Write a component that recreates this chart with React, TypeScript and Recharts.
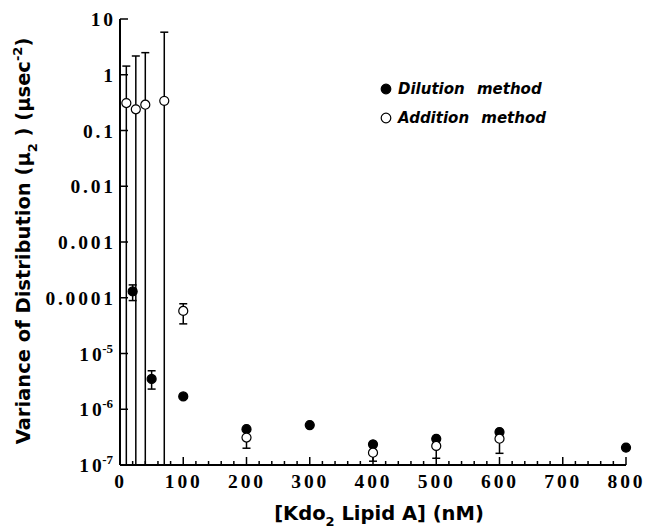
import { ScatterChart, Scatter, XAxis, YAxis, ErrorBar, Legend, Label } from "recharts";

// concentrations in nM, mu2 in usec^-2, error limits as absolute low/high values
const dilutionConc = [20, 50, 100, 200, 300, 400, 500, 600, 800];
const dilutionMu2 = [1.3e-4, 3.5e-6, 1.7e-6, 4.4e-7, 5.2e-7, 2.35e-7, 2.95e-7, 3.9e-7, 2.05e-7];
const dilutionLow = [8.9e-5, 2.3e-6, 1.7e-6, 4.4e-7, 5.2e-7, 2.35e-7, 2.95e-7, 3.9e-7, 2.05e-7];
const dilutionHigh = [1.7e-4, 4.9e-6, 1.7e-6, 4.4e-7, 5.2e-7, 2.35e-7, 2.95e-7, 3.9e-7, 2.05e-7];

const additionConc = [10, 25, 40, 70, 100, 200, 400, 500, 600];
const additionMu2 = [0.31, 0.24, 0.29, 0.34, 5.8e-5, 3.1e-7, 1.66e-7, 2.2e-7, 2.96e-7];
const additionLow = [1e-7, 1e-7, 1e-7, 1e-7, 3.4e-5, 2.0e-7, 1.17e-7, 1.32e-7, 1.62e-7];
const additionHigh = [1.43, 2.17, 2.49, 5.8, 7.8e-5, 4.3e-7, 2.2e-7, 2.9e-7, 4.2e-7];

const seriesNames = ["Dilution method", "Addition method"];

const xMajorTicks = [0, 100, 200, 300, 400, 500, 600, 700, 800];
const yTicks = [1e-7, 1e-6, 1e-5, 1e-4, 1e-3, 1e-2, 0.1, 1, 10];
const yTickLabels = ["10^-7", "10^-6", "10^-5", "0.0001", "0.001", "0.01", "0.1", "1", "10"];

// minor ticks every 20 nM between the labelled ones
const xMinorTicks = xMajorTicks
  .slice(0, -1)
  .flatMap((t) => [t, t + 20, t + 40, t + 60, t + 80])
  .concat([800]);

function buildRows(conc: number[], mu2: number[], low: number[], high: number[]) {
  return conc.map((c, i) => ({ conc: c, mu2: mu2[i], err: [mu2[i] - low[i], high[i] - mu2[i]] }));
}

const dilutionData = buildRows(dilutionConc, dilutionMu2, dilutionLow, dilutionHigh);
const additionData = buildRows(additionConc, additionMu2, additionLow, additionHigh);

const SERIF = "'Liberation Serif', 'Times New Roman', serif";
const SANS = "'DejaVu Sans', sans-serif";
const GAP = 2.8; // the tick numbers are set loosely

const tickText = { fontFamily: SERIF, fontWeight: 700, fontSize: 19.5 };

// letter-spaced text built from tspans
function spaced(s: string, gap: number, key: string) {
  return s.split("").map((ch, i) => (
    <tspan key={key + i} dx={i === 0 ? 0 : gap}>
      {ch}
    </tspan>
  ));
}

function BottomTick(props: any) {
  const { x, y, payload } = props;
  const major = payload.value % 100 === 0;
  return (
    <g>
      <line x1={x} x2={x} y1={y} y2={y - (major ? 8 : 4)} stroke="#000" strokeWidth={1.5} />
      {major && (
        <text x={x - 1} y={y + 23} textAnchor="middle" style={tickText} fill="#000">
          {spaced(String(payload.value), GAP, "b")}
        </text>
      )}
    </g>
  );
}

function TopTick(props: any) {
  const { x, y, payload } = props;
  const major = payload.value % 100 === 0;
  return <line x1={x} x2={x} y1={y} y2={y + (major ? 8 : 4)} stroke="#000" strokeWidth={1.5} />;
}

function LeftTick(props: any) {
  const { x, y, payload } = props;
  const label = yTickLabels[yTicks.indexOf(payload.value)] ?? "";
  const [base, exp] = label.split("^");
  return (
    <g>
      <line x1={x} x2={x + 8} y1={y} y2={y} stroke="#000" strokeWidth={1.5} />
      <text x={x - 7} y={y + 7} textAnchor="end" style={tickText} fill="#000">
        {spaced(base, GAP, "l")}
        {exp && (
          <tspan dx={0.5} dy={-8} style={{ fontSize: 13 }}>
            {exp}
          </tspan>
        )}
      </text>
    </g>
  );
}

function RightTick(props: any) {
  const { x, y } = props;
  return <line x1={x} x2={x - 8} y1={y} y2={y} stroke="#000" strokeWidth={1.5} />;
}

function YTitle(props: any) {
  const vb = props.viewBox;
  const bx = 30;
  const cy = vb.y + vb.height / 2 - 1;
  return (
    <text
      x={0}
      y={0}
      transform={`translate(${bx} ${cy}) rotate(-90)`}
      textAnchor="middle"
      style={{ fontFamily: SANS, fontWeight: 700, fontSize: 19.5 }}
      fill="#000"
    >
      Variance of Distribution (μ
      <tspan dy={7} style={{ fontSize: 13 }}>2</tspan>
      <tspan dy={-7}> ) (μsec</tspan>
      <tspan dy={-8} style={{ fontSize: 13 }}>-2</tspan>
      <tspan dy={8}>)</tspan>
    </text>
  );
}

function XTitle(props: any) {
  const vb = props.viewBox;
  const cx = vb.x + vb.width / 2 + 6;
  return (
    <text x={cx} y={520} textAnchor="middle" style={{ fontFamily: SANS, fontWeight: 700, fontSize: 19.5 }} fill="#000">
      [Kdo
      <tspan dy={6} style={{ fontSize: 13 }}>2</tspan>
      <tspan dy={-6}> Lipid A] (nM)</tspan>
    </text>
  );
}

function LegendBox(props: any) {
  const items = [...(props.payload ?? [])].sort(
    (a: any, b: any) => seriesNames.indexOf(a.value) - seriesNames.indexOf(b.value)
  );
  return (
    <div style={{ fontFamily: SANS, fontWeight: 700, fontStyle: "italic", fontSize: 15 }}>
      {items.map((entry: any) => (
        <div key={entry.value} style={{ display: "flex", alignItems: "center", height: 29, wordSpacing: 7, whiteSpace: "nowrap" }}>
          <svg width={12} height={12} style={{ marginRight: 6 }}>
            <circle
              cx={6}
              cy={6}
              r={4.8}
              fill={entry.value === seriesNames[0] ? "#000" : "#fff"}
              stroke="#000"
              strokeWidth={1.2}
            />
          </svg>
          <span>{entry.value}</span>
        </div>
      ))}
    </div>
  );
}

export default function App() {
  return (
    <div style={{ position: "absolute", left: 0, top: 0, background: "#fff" }}>
      <ScatterChart width={647} height={530} margin={{ top: 19, right: 21, bottom: 0, left: 0 }}>
        <XAxis
          xAxisId="bottom"
          dataKey="conc"
          type="number"
          domain={[0, 800]}
          ticks={xMinorTicks}
          interval={0}
          height={65}
          tickSize={0}
          tickMargin={0}
          tick={<BottomTick />}
          axisLine={{ stroke: "#000", strokeWidth: 2 }}
        >
          <Label content={<XTitle />} />
        </XAxis>
        <XAxis
          xAxisId="top"
          orientation="top"
          type="number"
          domain={[0, 800]}
          ticks={xMinorTicks}
          interval={0}
          allowDataOverflow
          height={0}
          tickSize={0}
          tickMargin={0}
          tick={<TopTick />}
          axisLine={{ stroke: "#000", strokeWidth: 2 }}
        />
        <YAxis
          yAxisId="left"
          dataKey="mu2"
          type="number"
          scale="log"
          domain={[1e-7, 10]}
          ticks={yTicks}
          interval={0}
          width={120}
          tickSize={0}
          tickMargin={0}
          tick={<LeftTick />}
          axisLine={{ stroke: "#000", strokeWidth: 2 }}
        >
          <Label content={<YTitle />} />
        </YAxis>
        <YAxis
          yAxisId="right"
          orientation="right"
          type="number"
          scale="log"
          domain={[1e-7, 10]}
          ticks={yTicks}
          interval={0}
          allowDataOverflow
          width={0}
          tickSize={0}
          tickMargin={0}
          tick={<RightTick />}
          axisLine={{ stroke: "#000", strokeWidth: 2 }}
        />
        <Legend
          layout="horizontal"
          verticalAlign="middle"
          align="center"
          content={<LegendBox />}
          wrapperStyle={{ left: 380, top: 74, width: "auto", height: "auto" }}
        />
        <Scatter
          name={seriesNames[0]}
          data={dilutionData}
          xAxisId="bottom"
          yAxisId="left"
          fill="#000"
          stroke="#000"
          strokeWidth={1.2}
          shape="circle"
          isAnimationActive={false}
        >
          <ErrorBar dataKey="err" direction="y" width={4} stroke="#000" strokeWidth={1.5} isAnimationActive={false} />
        </Scatter>
        <Scatter
          name={seriesNames[1]}
          data={additionData}
          xAxisId="bottom"
          yAxisId="left"
          fill="#fff"
          stroke="#000"
          strokeWidth={1.2}
          shape="circle"
          isAnimationActive={false}
        >
          <ErrorBar dataKey="err" direction="y" width={4} stroke="#000" strokeWidth={1.5} isAnimationActive={false} />
        </Scatter>
      </ScatterChart>
    </div>
  );
}
